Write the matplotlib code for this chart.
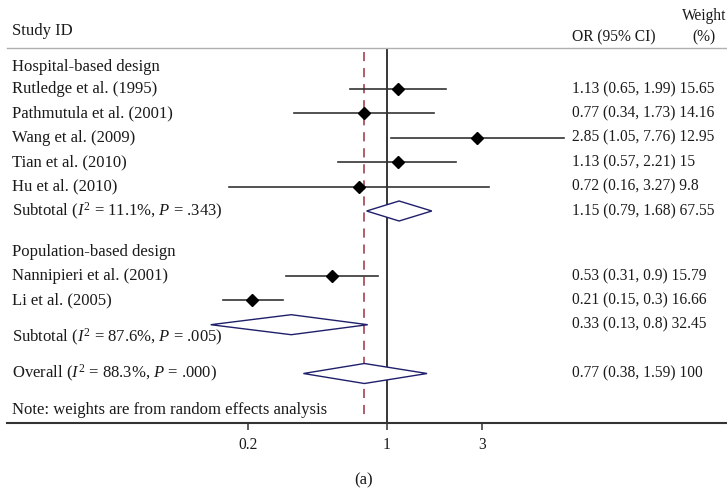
import numpy as np
import matplotlib
matplotlib.use("Agg")
import matplotlib.pyplot as plt
from matplotlib import transforms
from matplotlib.patches import Polygon

plt.rcParams['font.family'] = ['Liberation Serif', 'DejaVu Serif']
plt.rcParams['mathtext.fontset'] = 'custom'
plt.rcParams['mathtext.rm'] = 'Liberation Serif'
plt.rcParams['mathtext.it'] = 'Liberation Serif:italic'

# study data
hosp_names = ["Rutledge et al. (1995)", "Pathmutula et al. (2001)", "Wang et al. (2009)",
              "Tian et al. (2010)", "Hu et al. (2010)"]
hosp_or = [1.13, 0.77, 2.85, 1.13, 0.72]
hosp_lo = [0.65, 0.34, 1.05, 0.57, 0.16]
hosp_hi = [1.99, 1.73, 7.76, 2.21, 3.27]
hosp_w = [15.65, 14.16, 12.95, 15, 9.8]

pop_names = ["Nannipieri et al. (2001)", "Li et al. (2005)"]
pop_or = [0.53, 0.21]
pop_lo = [0.31, 0.15]
pop_hi = [0.9, 0.3]
pop_w = [15.79, 16.66]

# pooled estimates: (OR, lower, upper, weight)
sub_hosp = [1.15, 0.79, 1.68, 67.55]
sub_pop = [0.33, 0.13, 0.8, 32.45]
overall = [0.77, 0.38, 1.59, 100]

sub_hosp_label = r"Subtotal ($I^2$ = 11.1%, $P$ = .343)"
sub_pop_label = r"Subtotal ($I^2$ = 87.6%, $P$ = .005)"
overall_label = r"Overall ($I^2$ = 88.3%, $P$ = .000)"

xticks = [0.2, 1, 3]
xtick_labels = ["0.2", "1", "3"]

# row layout (row units, downwards)
hosp_rows = [0, 1, 2, 3, 4]
pop_rows = [7.66, 8.66]


def fmt(o, lo, hi, w):
    return f"{o:g} ({lo:g}, {hi:g}) {w:g}"


def diamond(ax, est, row, color='#1f1f6b', h=0.41):
    o, lo, hi = est[0], est[1], est[2]
    pts = [(lo, row), (o, row - h), (hi, row), (o, row + h)]
    ax.add_patch(Polygon(pts, closed=True, facecolor='white', edgecolor=color, lw=1.0, zorder=4))


fig = plt.figure(figsize=(7.27, 4.94), dpi=100)
W, H = 727, 494
ax = fig.add_axes([7 / W, (H - 423) / H, 720 / W, (423 - 48) / H])
ax.set_xscale('log')
ax.set_xlim(np.exp((7 - 387) / 86.4), np.exp((727 - 387) / 86.4))
ax.set_ylim((423 - 89) / 24.4, (48 - 89) / 24.4)

txt_color = '#1a1a1a'
fs = 12      # study labels
fn = 11.2    # numbers column
tr = transforms.blended_transform_factory(fig.transFigure, ax.transData)
xl = 12.5 / W
xr = 572 / W

# header
ax.text(xl, (31 - 89) / 24.4, "Study ID", transform=tr, fontsize=fs, va='center', color=txt_color, clip_on=False)
ax.text(xr, (37 - 89) / 24.4, "OR (95% CI)", transform=tr, fontsize=fn, va='center', color=txt_color, clip_on=False)
ax.text(704 / W, (16 - 89) / 24.4, "Weight", transform=tr, fontsize=fn, va='center', ha='center',
        color=txt_color, clip_on=False)
ax.text(704 / W, (37 - 89) / 24.4, "(%)", transform=tr, fontsize=fn, va='center', ha='center',
        color=txt_color, clip_on=False)

# group headers
ax.text(xl, -0.9, "Hospital-based design", transform=tr, fontsize=fs, va='center', color=txt_color)
ax.text(xl, 6.68, "Population-based design", transform=tr, fontsize=fs, va='center', color=txt_color)

# reference lines
ax.axvline(1, color='black', lw=1.1, zorder=1)
ax.plot([overall[0], overall[0]], [-1.5, 13.5], color='#9b3344', lw=1.1, ls=(0, (6, 4.5)), zorder=1)

# individual studies
for names, ors, los, his, ws, rows in [(hosp_names, hosp_or, hosp_lo, hosp_hi, hosp_w, hosp_rows),
                                       (pop_names, pop_or, pop_lo, pop_hi, pop_w, pop_rows)]:
    for n, o, lo, hi, w, r in zip(names, ors, los, his, ws, rows):
        ax.plot([lo, hi], [r, r], color='#333333', lw=1.2, zorder=2)
        ax.plot([o], [r], marker='D', ms=6.2, color='black', zorder=3)
        ax.text(xl, r, n, transform=tr, fontsize=fs, va='center', color=txt_color)
        ax.text(xr, r, fmt(o, lo, hi, w), transform=tr, fontsize=fn, va='center', color=txt_color)

# subtotals and overall
diamond(ax, sub_hosp, 5)
ax.text(xl, 5, sub_hosp_label, transform=tr, fontsize=fs, va='center', color=txt_color)
ax.text(xr, 5, fmt(*sub_hosp), transform=tr, fontsize=fn, va='center', color=txt_color)

diamond(ax, sub_pop, 9.66)
ax.text(xl, 10.2, sub_pop_label, transform=tr, fontsize=fs, va='center', color=txt_color)
ax.text(xr, 9.66, fmt(*sub_pop), transform=tr, fontsize=fn, va='center', color=txt_color)

diamond(ax, overall, 11.66)
ax.text(xl, 11.66, overall_label, transform=tr, fontsize=fs, va='center', color=txt_color)
ax.text(xr, 11.66, fmt(*overall), transform=tr, fontsize=fn, va='center', color=txt_color)

ax.text(xl, 13.16, "Note: weights are from random effects analysis", transform=tr, fontsize=fs,
        va='center', color=txt_color)

# axes styling
for s in ['left', 'right']:
    ax.spines[s].set_visible(False)
ax.spines['top'].set_color('#b0b0b0')
ax.spines['top'].set_linewidth(1.0)
ax.spines['bottom'].set_color('#333333')
ax.spines['bottom'].set_linewidth(1.5)
ax.set_yticks([])
ax.set_xticks(xticks)
ax.set_xticklabels(xtick_labels, fontsize=fn, color=txt_color)
ax.xaxis.set_minor_locator(matplotlib.ticker.NullLocator())
ax.tick_params(axis='x', direction='out', length=5, width=1.1, pad=5, color='#333333')

fig.text(0.5, (H - 480) / H, "(a)", ha='center', va='center', fontsize=fs, color=txt_color)

fig.savefig("out.png", dpi=100)
